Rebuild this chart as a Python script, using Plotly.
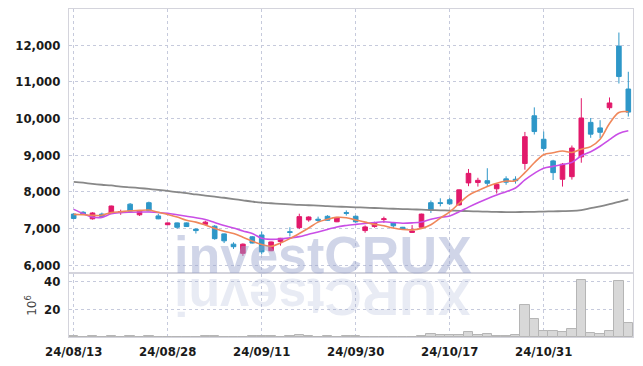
import plotly.graph_objects as go

dates = ["24/08/13","24/08/14","24/08/16","24/08/19","24/08/20","24/08/21","24/08/22","24/08/23","24/08/26","24/08/27",
         "24/08/28","24/08/29","24/08/30","24/09/02","24/09/03","24/09/04","24/09/05","24/09/06","24/09/09","24/09/10",
         "24/09/11","24/09/12","24/09/13","24/09/19","24/09/20","24/09/23","24/09/24","24/09/25","24/09/26","24/09/27",
         "24/09/30","24/10/02","24/10/04","24/10/07","24/10/08","24/10/10","24/10/11","24/10/14","24/10/15","24/10/16",
         "24/10/17","24/10/18","24/10/21","24/10/22","24/10/23","24/10/24","24/10/25","24/10/28","24/10/29","24/10/30",
         "24/10/31","24/11/01","24/11/04","24/11/05","24/11/06","24/11/07","24/11/08","24/11/11","24/11/12","24/11/13"]

opens = [7390,7440,7260,7390,7410,7440,7660,7370,7700,7340,
         7100,7150,7150,6980,7110,7060,6850,6570,6320,6770,
         6820,6390,6640,6910,7020,7230,7250,7330,7180,7430,
         7330,6940,7050,7240,7150,7030,6890,7030,7700,7700,
         7780,7640,8240,8250,8300,8080,8350,8340,8770,10070,
         9430,8840,8340,8410,8950,9890,9740,10290,11970,10800]
highs = [7410,7470,7440,7430,7620,7510,7690,7480,7730,7400,
         7160,7160,7160,7000,7210,7090,6860,6620,6590,6790,
         6910,6640,6740,7030,7400,7330,7320,7360,7310,7490,
         7350,7080,7180,7320,7160,7040,7090,7400,7760,7820,
         7830,8060,8620,8380,8640,8220,8420,8420,9630,10300,
         9640,8870,8780,9260,10550,10010,9950,10570,12340,11270]
lows = [7250,7370,7240,7300,7400,7370,7460,7340,7470,7250,
        7090,6990,7040,6860,7080,6690,6600,6440,6250,6590,
        6290,6380,6530,6780,6980,7180,7170,7210,7170,7350,
        7150,6880,7020,7150,7010,6960,6880,7020,7420,7600,
        7640,7620,8150,8140,8140,7950,8190,8220,8600,9560,
        9100,8320,8140,8330,8790,9470,9460,10230,10950,10050]
closes = [7270,7380,7420,7320,7610,7460,7470,7470,7480,7260,
          7150,7030,7050,6940,7170,6720,6660,6500,6570,6600,
          6360,6630,6730,6890,7320,7310,7220,7220,7300,7410,
          7180,7040,7160,7260,7070,6970,6930,7390,7500,7680,
          7670,8050,8500,8310,8230,8200,8260,8300,9500,9640,
          9180,8520,8750,9190,10010,9570,9620,10420,11140,10170]

ma_short = [7383,7370,7355,7360,7430,7455,7480,7490,7500,7440,
            7380,7310,7220,7170,7090,7000,6920,6860,6760,6650,
            6560,6510,6600,6720,6860,7010,7170,7250,7300,7290,
            7230,7170,7110,7070,7010,6970,6960,7000,7100,7280,
            7450,7680,7900,8030,8140,8230,8290,8300,8520,8790,
            9010,9060,9110,9070,9160,9230,9430,9860,10160,10180]
ma_mid = [7519,7404,7310,7300,7400,7430,7440,7445,7445,7435,
          7410,7370,7330,7290,7240,7160,7080,7010,6930,6860,
          6730,6700,6710,6740,6775,6840,6900,6970,7040,7080,
          7110,7135,7160,7180,7160,7140,7150,7175,7250,7300,
          7340,7450,7580,7700,7810,7910,8000,8100,8320,8500,
          8640,8690,8740,8800,8980,9090,9240,9420,9590,9660]
ma_long = [8270,8245,8215,8190,8170,8140,8120,8100,8075,8050,
           8020,7990,7960,7925,7895,7865,7835,7800,7765,7730,
           7700,7685,7670,7655,7640,7630,7620,7605,7595,7585,
           7575,7565,7555,7545,7535,7527,7520,7510,7500,7492,
           7486,7478,7470,7462,7455,7448,7445,7445,7448,7452,
           7458,7464,7470,7476,7500,7550,7600,7660,7725,7790]

volumes = [0.6,0.3,0.5,0.3,0.6,0.3,0.5,0.3,0.5,0.3,
           0.2,0.2,0.2,0.2,0.4,0.5,0.2,0.2,0.3,0.5,
           0.5,0.4,0.2,0.6,1.2,0.6,0.2,0.5,0.2,0.4,
           0.5,0.2,0.2,0.2,0.2,0.2,0.2,0.6,1.8,1.2,
           1.2,1.5,3.8,1.3,2.0,0.9,0.9,1.5,22.5,13.0,
           4.0,4.5,3.8,5.5,41.0,3.0,2.0,4.5,40.0,10.0]

price_ticks = [6000, 7000, 8000, 9000, 10000, 11000, 12000]
vol_ticks = [20, 40]
date_ticks = dates[::10]

FONT = "DejaVu Sans Condensed, Liberation Sans Narrow, sans-serif"
GRID = "#c6cadc"
FRAME = "#d4d4dc"
TICKFONT = dict(family=FONT, size=13, color="#1a1a1a", weight="bold")

fig = go.Figure()
fig.add_trace(go.Candlestick(
    x=dates, open=opens, high=highs, low=lows, close=closes,
    increasing=dict(line=dict(color="#e2196b", width=1), fillcolor="#e2196b"),
    decreasing=dict(line=dict(color="#2e97c8", width=1), fillcolor="#2e97c8"),
    xaxis="x", yaxis="y", showlegend=False, hoverinfo="skip"))
fig.add_trace(go.Scatter(x=dates, y=ma_long, mode="lines", line=dict(color="#888888", width=1.8, shape="spline"),
                         xaxis="x", yaxis="y", showlegend=False, hoverinfo="skip"))
fig.add_trace(go.Scatter(x=dates, y=ma_mid, mode="lines", line=dict(color="#c94ee6", width=1.6, shape="spline"),
                         xaxis="x", yaxis="y", showlegend=False, hoverinfo="skip"))
fig.add_trace(go.Scatter(x=dates, y=ma_short, mode="lines", line=dict(color="#f0875a", width=1.6, shape="spline"),
                         xaxis="x", yaxis="y", showlegend=False, hoverinfo="skip"))
fig.add_trace(go.Bar(x=dates, y=volumes, marker=dict(color="#d8d8d8", line=dict(color="#b5b5b5", width=1)),
                     xaxis="x2", yaxis="y2", showlegend=False, hoverinfo="skip"))

fig.add_annotation(text="<b>investCRUX</b>", xref="paper", yref="paper", x=0.45, y=0.25,
                   xanchor="center", yanchor="middle", showarrow=False,
                   font=dict(family="Liberation Sans, sans-serif", size=52, color="rgba(150,162,205,0.45)"))
fig.add_annotation(text="<b>XURCtsevni</b>", xref="paper", yref="paper", x=0.45, y=0.12,
                   xanchor="center", yanchor="middle", showarrow=False, textangle=180,
                   font=dict(family="Liberation Sans, sans-serif", size=52, color="rgba(150,162,205,0.22)"))

# the page body adds an 8px offset, so margins are shifted to keep the plot area in place
fig.update_layout(
    width=643, height=366,
    margin=dict(l=61, r=18, t=1, b=37, autoexpand=False),
    paper_bgcolor="white", plot_bgcolor="white",
    bargap=0,
    font=dict(family=FONT, size=13, color="#1e1e1e"),
    xaxis=dict(domain=[0, 1], anchor="y", type="category", rangeslider=dict(visible=False),
               range=[-0.5, 59.5], tickvals=date_ticks, showticklabels=False, automargin=False,
               showgrid=True, gridcolor=GRID, griddash="dot", gridwidth=1,
               showline=True, linecolor=FRAME, mirror=True, ticks=""),
    xaxis2=dict(domain=[0, 1], anchor="y2", type="category", matches="x", automargin=False,
                range=[-0.5, 59.5], tickvals=date_ticks, ticktext=date_ticks,
                showgrid=True, gridcolor=GRID, griddash="dot", gridwidth=1,
                showline=True, linecolor=FRAME, mirror=True, ticks="", ticklabelstandoff=2,
                tickfont=TICKFONT),
    yaxis=dict(domain=[0.198, 1], anchor="x", range=[5809, 12982], tickvals=price_ticks, automargin=False,
               tickformat=",d", showgrid=True, gridcolor=GRID, griddash="dot", gridwidth=1,
               showline=True, linecolor=FRAME, mirror=True, ticks="", ticklabelstandoff=5,
               zeroline=False, tickfont=TICKFONT),
    yaxis2=dict(domain=[0, 0.192], anchor="x2", range=[0, 45], tickvals=vol_ticks, automargin=False,
                showgrid=True, gridcolor=GRID, griddash="dot", gridwidth=1,
                showline=True, linecolor=FRAME, mirror=True, ticks="", ticklabelstandoff=5,
                zeroline=False, tickfont=TICKFONT,
                title=dict(text="10<sup>6</sup>", font=dict(family="DejaVu Sans, sans-serif", size=12, color="#444"),
                           standoff=4)),
)

fig.write_html("out.html")
